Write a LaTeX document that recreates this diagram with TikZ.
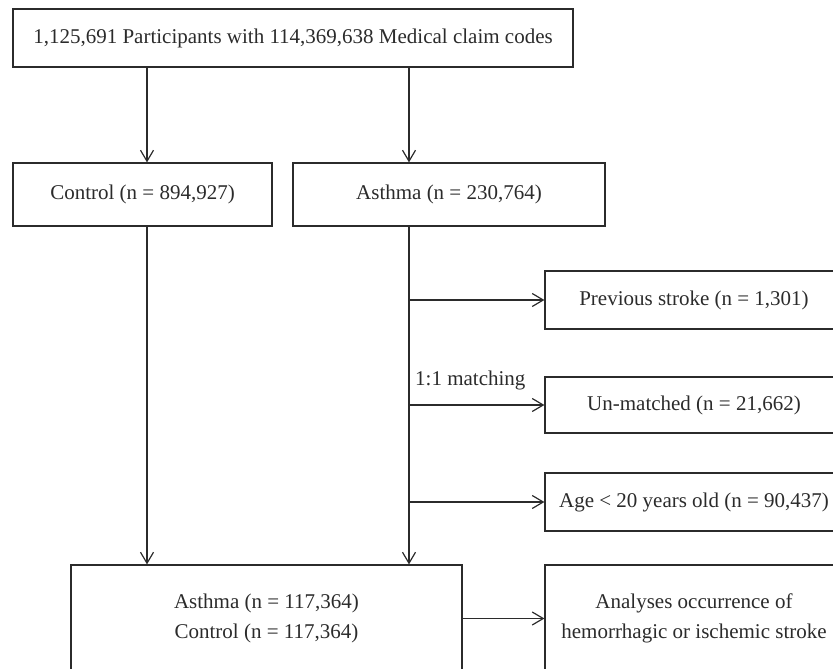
\documentclass[tikz,border=0pt]{standalone}
\usepackage{fontspec}
\setmainfont{Liberation Serif}
\usetikzlibrary{arrows.meta}
\definecolor{ink}{HTML}{2B2B2B}
\begin{document}
\begin{tikzpicture}[x=1pt,y=-1pt,
  box/.style={draw=ink, line width=1.2pt, rectangle, inner sep=0pt, align=center, text=ink,
              font=\fontsize{21}{30}\selectfont},
  arr/.style={draw=ink, line width=1.2pt, -{Straight Barb[length=11pt,width=13pt]}},
  lbl/.style={text=ink, inner sep=0pt, font=\fontsize{21}{30}\selectfont}]
\useasboundingbox (0,0) rectangle (833,669);
\clip (0,0) rectangle (833,669);

\node[box, minimum width=560pt, minimum height=58pt] (top) at (293,38)
  {1,125,691 Participants with 114,369,638 Medical claim codes};
\node[box, minimum width=259pt, minimum height=63pt] (control) at (142.5,194.5)
  {Control (n = 894,927)};
\node[box, minimum width=312pt, minimum height=63pt] (asthma) at (449,194.5)
  {Asthma (n = 230,764)};
\node[box, minimum width=298pt, minimum height=58pt] (prev) at (694,300)
  {Previous stroke (n = 1,301)};
\node[box, minimum width=298pt, minimum height=56pt] (unm) at (694,405)
  {Un-matched (n = 21,662)};
\node[box, minimum width=298pt, minimum height=58pt] (age) at (694,502)
  {Age < 20 years old (n = 90,437)};
\node[box, minimum width=391pt, minimum height=107pt] (matched) at (266.5,618.5)
  {Asthma (n = 117,364)\\Control (n = 117,364)};
\node[box, minimum width=298pt, minimum height=107pt] (analyses) at (694,618.5)
  {Analyses occurrence of\\hemorrhagic or ischemic stroke};

\coordinate (lx) at (147,0);
\coordinate (rx) at (409,0);

\draw[arr] (lx |- top.south) -- (lx |- control.north);
\draw[arr] (rx |- top.south) -- (rx |- asthma.north);
\draw[arr] (lx |- control.south) -- (lx |- matched.north);
\draw[arr] (rx |- asthma.south) -- (rx |- matched.north);
\draw[arr] (rx |- prev.west) -- (prev.west);
\draw[arr] (rx |- unm.west) -- (unm.west);
\draw[arr] (rx |- age.west) -- (age.west);
\draw[arr] (matched.east) -- (analyses.west);

\node[lbl, anchor=west] (match) at (415,380) {1:1 matching};
\end{tikzpicture}
\end{document}
